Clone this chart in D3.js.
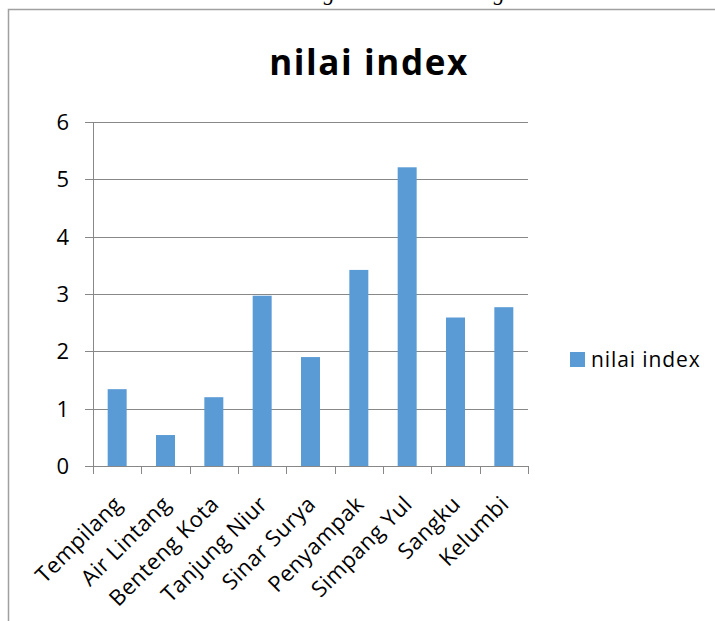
<!DOCTYPE html>
<html>
<head>
<meta charset="utf-8">
<script src="https://cdn.jsdelivr.net/npm/d3@7"></script>
<style>
  html, body { margin: 0; padding: 0; background: #fff; overflow: hidden; }
  text { font-family: "Open Sans", Lato, sans-serif; fill: #000; }
</style>
</head>
<body>
<script>
// data
const desa = ["Tempilang", "Air Lintang", "Benteng Kota", "Tanjung Niur", "Sinar Surya",
              "Penyampak", "Simpang Yul", "Sangku", "Kelumbi"];
const nilaiIndex = [1.34, 0.54, 1.20, 2.97, 1.90, 3.42, 5.21, 2.59, 2.77];
const yTicks = [0, 1, 2, 3, 4, 5, 6];
const seriesName = "nilai index";

const W = 715, H = 621;
const barColor = "#5b9bd5";
const gridColor = "#888888";

const svg = d3.select("body").append("svg")
    .attr("width", W)
    .attr("height", H);

// caption of the page above, clipped off
svg.append("text")
    .attr("x", 372).attr("y", 0)
    .attr("text-anchor", "middle")
    .style("font-family", "'Liberation Serif', serif")
    .style("font-style", "italic")
    .style("font-size", "22px")
    .attr("fill", "#333")
    .text("Tabel 4. Tabel diagram Indeks Datang terbuka");

// chart frame
svg.append("rect")
    .attr("x", 8.5).attr("y", 9.5)
    .attr("width", W + 20).attr("height", H + 20)
    .attr("fill", "none")
    .attr("stroke", "#a0a0a0")
    .attr("stroke-width", 1.5);

// plot area
const plotL = 93, plotR = 528, plotT = 122, plotB = 466;

const xb = d3.scaleBand().domain(desa).range([plotL, plotR]);

const y = d3.scaleLinear()
    .domain([0, 6])
    .range([plotB, plotT]);

// gridlines
svg.append("g")
    .selectAll("line")
    .data(yTicks)
    .join("line")
    .attr("x1", plotL - 8).attr("x2", plotR)
    .attr("y1", d => Math.round(y(d)) + 0.5)
    .attr("y2", d => Math.round(y(d)) + 0.5)
    .attr("stroke", gridColor)
    .attr("stroke-width", 1);

// y axis line
svg.append("line")
    .attr("x1", plotL + 0.5).attr("x2", plotL + 0.5)
    .attr("y1", plotT).attr("y2", plotB)
    .attr("stroke", gridColor);

// x ticks at band edges
const edges = desa.map(d => xb(d)).concat([plotR]);
svg.append("g")
    .selectAll("line")
    .data(edges)
    .join("line")
    .attr("x1", d => Math.round(d) + 0.5).attr("x2", d => Math.round(d) + 0.5)
    .attr("y1", plotB).attr("y2", plotB + 8)
    .attr("stroke", gridColor);

// y labels
svg.append("g")
    .selectAll("text")
    .data(yTicks)
    .join("text")
    .attr("x", 69)
    .attr("y", d => y(d))
    .attr("dy", "0.36em")
    .attr("text-anchor", "end")
    .style("font-size", "22px")
    .text(d => d);

// bars
svg.append("g")
    .selectAll("rect")
    .data(nilaiIndex)
    .join("rect")
    .attr("x", (d, i) => xb(desa[i]) + xb.bandwidth() / 2 - 9.5)
    .attr("width", 19)
    .attr("y", d => y(d))
    .attr("height", d => y(0) - y(d))
    .attr("fill", barColor);

// x labels, rotated
svg.append("g")
    .selectAll("text")
    .data(desa)
    .join("text")
    .attr("transform", d => `translate(${xb(d) + xb.bandwidth() / 2 + 1}, 500) rotate(-45)`)
    .attr("text-anchor", "end")
    .attr("dy", "0.35em")
    .style("font-size", "22px")
    .style("letter-spacing", "0.5px")
    .text(d => d);

// title
svg.append("text")
    .attr("x", 369).attr("y", 75)
    .attr("text-anchor", "middle")
    .style("font-size", "35px")
    .style("font-weight", "bold")
    .style("letter-spacing", "1.6px")
    .text(seriesName);

// legend
const lg = svg.append("g").attr("transform", "translate(570, 352)");
lg.append("rect")
    .attr("width", 15).attr("height", 15)
    .attr("fill", barColor);
lg.append("text")
    .attr("x", 21).attr("y", 7.5)
    .attr("dy", "0.35em")
    .style("font-size", "21px")
    .style("letter-spacing", "0.9px")
    .text(seriesName);
</script>
</body>
</html>
